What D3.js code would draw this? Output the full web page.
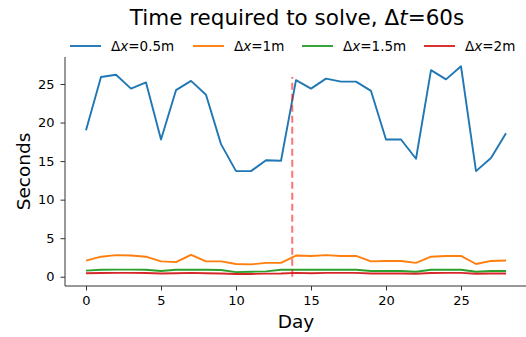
<!DOCTYPE html>
<html>
<head>
<meta charset="utf-8">
<script src="https://cdn.jsdelivr.net/npm/d3@7"></script>
<style>
  body { margin: 0; background: #fff; }
  text { font-family: "DejaVu Sans", sans-serif; fill: #000; }
</style>
</head>
<body>
<div id="chart"></div>
<script>
// Data
const days = d3.range(0, 29);
const dx05 = [19.0, 25.9, 26.2, 24.4, 25.2, 17.8, 24.2, 25.4, 23.6, 17.2, 13.7, 13.7, 15.1, 15.05,
  25.5, 24.4, 25.7, 25.3, 25.3, 24.1, 17.8, 17.8, 15.3, 26.8, 25.6, 27.3, 13.7, 15.4, 18.6];
const dx1 = [2.1, 2.6, 2.8, 2.75, 2.6, 2.0, 1.9, 2.85, 2.0, 2.0, 1.65, 1.6, 1.8, 1.8,
  2.75, 2.7, 2.8, 2.7, 2.7, 2.0, 2.05, 2.05, 1.8, 2.6, 2.7, 2.7, 1.65, 2.05, 2.1];
const dx15 = [0.8, 0.9, 0.92, 0.92, 0.9, 0.75, 0.9, 0.9, 0.9, 0.88, 0.6, 0.65, 0.7, 0.9,
  0.9, 0.9, 0.9, 0.9, 0.9, 0.75, 0.75, 0.75, 0.65, 0.9, 0.9, 0.9, 0.65, 0.75, 0.75];
const dx2 = [0.45, 0.48, 0.5, 0.5, 0.48, 0.42, 0.45, 0.5, 0.45, 0.42, 0.35, 0.36, 0.4, 0.42,
  0.5, 0.45, 0.5, 0.5, 0.5, 0.42, 0.42, 0.42, 0.38, 0.48, 0.5, 0.5, 0.38, 0.42, 0.42];
const seriesNames = ['0.5m', '1m', '1.5m', '2m'];
const colors = ['#1f77b4', '#ff7f0e', '#2ca02c', '#d62728'];
const markerDay = 13.75;
const markerTop = 25.9;
const xTicks = [0, 5, 10, 15, 20, 25];
const yTicks = [0, 5, 10, 15, 20, 25];

// Dimensions
let margin = { left: 65, right: 0, top: 57, bottom: 51 };
let width = 527 - margin.left - margin.right;
let height = 337 - margin.top - margin.bottom;

// Scales
let x = d3.scaleLinear().domain([-1.4, 29.4]).range([0, width]);
let y = d3.scaleLinear().domain([-1.2, 28.5]).range([height, 0]);

// SVG
let root = d3.select('#chart')
  .append('svg')
  .attr('width', 526)
  .attr('height', 337);
let svg = root.append('g')
  .attr('transform', `translate(${margin.left},${margin.top})`);

// Lines
const allSeries = [dx05, dx1, dx15, dx2];
let line = d3.line().x((d, i) => x(days[i])).y(d => y(d));
allSeries.forEach((s, k) => {
  svg.append('path')
    .datum(s)
    .attr('fill', 'none')
    .attr('stroke', colors[k])
    .attr('stroke-width', 1.9)
    .attr('stroke-linejoin', 'round')
    .attr('d', line);
});

// Dashed marker
svg.append('line')
  .attr('x1', x(markerDay)).attr('x2', x(markerDay))
  .attr('y1', y(0)).attr('y2', y(markerTop))
  .attr('stroke', '#ff0000')
  .attr('stroke-opacity', 0.55)
  .attr('stroke-width', 2)
  .attr('stroke-dasharray', '7,4');

// Axes
let xAxis = svg.append('g')
  .attr('transform', `translate(0, ${height})`)
  .call(d3.axisBottom(x).tickValues(xTicks).tickSize(4.5).tickPadding(5));
let yAxis = svg.append('g')
  .call(d3.axisLeft(y).tickValues(yTicks).tickSize(4.5).tickPadding(6));
[xAxis, yAxis].forEach(a => {
  a.selectAll('text').style('font-size', '13px').style('font-family', 'DejaVu Sans');
  a.selectAll('line, path').attr('stroke', '#333');
});
xAxis.select('.domain').attr('d', `M0,0H${width}`);
yAxis.select('.domain').attr('d', `M0,0V${height}`);

// Labels
root.append('text')
  .attr('x', 297)
  .attr('y', 25)
  .attr('text-anchor', 'middle')
  .style('font-size', '21.5px')
  .html('Time required to solve, Δ<tspan font-style="italic">t</tspan>=60s');
root.append('text')
  .attr('x', 296)
  .attr('y', 328)
  .attr('text-anchor', 'middle')
  .style('font-size', '18.5px')
  .text('Day');
root.append('text')
  .attr('transform', `translate(30, ${margin.top + height / 2}) rotate(-90)`)
  .attr('text-anchor', 'middle')
  .style('font-size', '18.5px')
  .text('Seconds');

// Legend
const legendX = [70, 193, 302, 424];
seriesNames.forEach((name, k) => {
  let g = root.append('g').attr('transform', `translate(${legendX[k]}, 46)`);
  g.append('line')
    .attr('x1', 0).attr('x2', 31)
    .attr('stroke', colors[k])
    .attr('stroke-width', 1.9);
  g.append('text')
    .attr('x', 41)
    .attr('y', 5)
    .style('font-size', '13.5px')
    .html(`Δ<tspan font-style="italic">x</tspan>=${name}`);
});
</script>
</body>
</html>
